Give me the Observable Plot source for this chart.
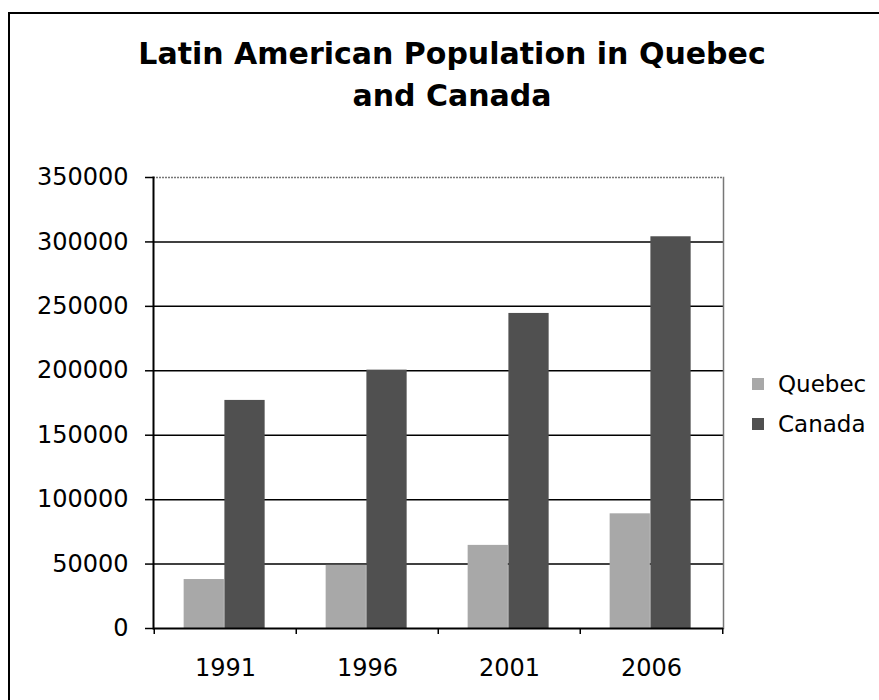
<!DOCTYPE html>
<html>
<head>
<meta charset="utf-8">
<script src="https://cdn.jsdelivr.net/npm/d3@7"></script>
<script src="https://cdn.jsdelivr.net/npm/@observablehq/plot@0.6"></script>
<style>
  html, body { margin: 0; padding: 0; background: #fff; overflow: hidden; }
  #page { position: relative; width: 879px; height: 700px; overflow: hidden; font-family: "DejaVu Sans", sans-serif; color: #000; }
  #border { position: absolute; left: 8px; top: 12px; width: 2000px; height: 2000px; border-left: 2px solid #000; border-top: 2px solid #000; }
  #title { position: absolute; left: 102px; width: 700px; top: 33px; text-align: center; font-weight: bold; font-size: 30px; line-height: 42px; white-space: nowrap; }
  #chart { position: absolute; left: 0; top: 140px; }
  #legend { position: absolute; left: 752px; top: 364px; font-size: 23px; }
  .row { display: flex; align-items: center; height: 40px; }
  .sw { width: 12px; height: 12px; margin-right: 14px; }
</style>
</head>
<body>
<div id="page">
  <div id="border"></div>
  <div id="title">Latin American Population in Quebec<br>and Canada</div>
  <div id="chart"></div>
  <div id="legend"></div>
</div>
<script>
const years = ["1991", "1996", "2001", "2006"];
const quebec = [38000, 49000, 64500, 89000];
const canada = [177000, 200500, 244500, 304000];
const seriesNames = ["Quebec", "Canada"];
const seriesColors = ["#a8a8a8", "#505050"];
const yTicks = [0, 50000, 100000, 150000, 200000, 250000, 300000, 350000];

const rows = years.map((y, i) => ({year: y, quebec: quebec[i], canada: canada[i]}));

const W = 879, H = 560, ML = 153, MR = 156, MT = 37, MB = 72;
const step = (W - ML - MR) / years.length;
// bar placement within each category band (fractions of band)
const qL = 0.208 * step, bw = 0.286 * step;
const cL = qL + bw;

const chart = Plot.plot({
  width: W, height: H,
  marginLeft: ML, marginRight: MR, marginTop: MT, marginBottom: MB,
  style: {fontFamily: "DejaVu Sans, sans-serif", fontSize: "24px", color: "#000", background: "transparent", overflow: "visible"},
  x: {type: "band", domain: years, padding: 0, label: null},
  y: {domain: [0, 350000], label: null},
  marks: [
    Plot.ruleY(yTicks.filter(d => d > 0 && d < 350000), {stroke: "#000", strokeWidth: 1.5}),
    Plot.ruleY([350000], {stroke: "#777", strokeWidth: 1.5, strokeDasharray: "2,1"}),
    Plot.frame({anchor: "right", stroke: "#777", strokeWidth: 1.5, strokeDasharray: "2,1"}),
    Plot.barY(rows, {x: "year", y: "quebec", fill: seriesColors[0], insetLeft: qL, insetRight: step - qL - bw}),
    Plot.barY(rows, {x: "year", y: "canada", fill: seriesColors[1], insetLeft: cL, insetRight: step - cL - bw}),
    Plot.frame({anchor: "left", stroke: "#000", strokeWidth: 2}),
    Plot.ruleY([0], {stroke: "#000", strokeWidth: 2}),
    Plot.axisY({ticks: yTicks, tickSize: 8, tickPadding: 17, tickFormat: d3.format("d"), fontSize: 24, stroke: "#000", strokeWidth: 1.5, label: null}),
    Plot.axisX({tickSize: 0, tickPadding: 30, fontSize: 24, label: null}),
    Plot.axisX({ticks: years, tickSize: 6, tickFormat: () => "", dx: -step / 2, stroke: "#000", strokeWidth: 1.5, label: null}),
    Plot.axisX({ticks: [years[years.length - 1]], tickSize: 6, tickFormat: () => "", dx: step / 2, stroke: "#000", strokeWidth: 1.5, label: null})
  ]
});
document.getElementById("chart").appendChild(chart);

const legend = document.getElementById("legend");
seriesNames.forEach((name, i) => {
  const row = document.createElement("div");
  row.className = "row";
  const sw = document.createElement("div");
  sw.className = "sw";
  sw.style.background = seriesColors[i];
  const t = document.createElement("span");
  t.textContent = name;
  row.appendChild(sw);
  row.appendChild(t);
  legend.appendChild(row);
});
</script>
</body>
</html>
